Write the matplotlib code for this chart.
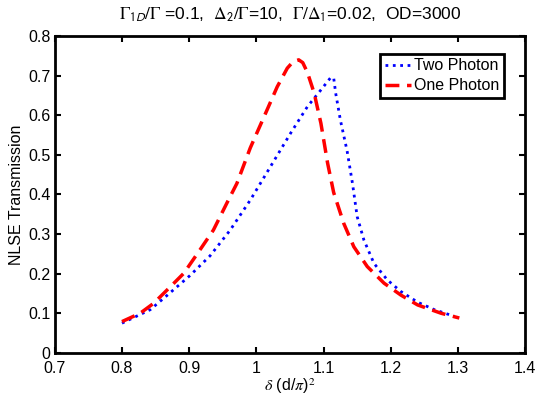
import matplotlib
matplotlib.use("Agg")
import matplotlib.pyplot as plt

plt.rcParams["font.family"] = ["Liberation Sans", "DejaVu Sans"]
plt.rcParams["mathtext.fontset"] = "stix"

# values
x_two = [0.800, 0.842, 0.867, 0.901, 0.931, 0.961, 0.991, 1.018, 1.051, 1.076,
         1.096, 1.110, 1.115, 1.118, 1.125, 1.135, 1.143, 1.150, 1.160, 1.175,
         1.195, 1.215, 1.240, 1.265, 1.295]
y_two = [0.075, 0.109, 0.145, 0.195, 0.245, 0.310, 0.386, 0.462, 0.555, 0.622,
         0.664, 0.694, 0.695, 0.656, 0.588, 0.510, 0.428, 0.344, 0.285, 0.226,
         0.184, 0.155, 0.128, 0.109, 0.092]

x_one = [0.800, 0.827, 0.847, 0.872, 0.892, 0.916, 0.936, 0.956, 0.971, 0.991,
         1.016, 1.031, 1.046, 1.055, 1.063, 1.069, 1.076, 1.086, 1.096, 1.106,
         1.115, 1.130, 1.145, 1.165, 1.190, 1.215, 1.240, 1.275, 1.302]
y_one = [0.079, 0.100, 0.125, 0.167, 0.201, 0.260, 0.310, 0.378, 0.428, 0.518,
         0.614, 0.672, 0.719, 0.736, 0.740, 0.733, 0.708, 0.656, 0.580, 0.479,
         0.405, 0.327, 0.268, 0.218, 0.176, 0.146, 0.121, 0.100, 0.088]

fig = plt.figure(figsize=(5.37, 4.01), dpi=100)
ax = fig.add_axes([0.102, 0.12, 0.876, 0.79])

ax.plot(x_two, y_two, color="blue", linestyle=":", linewidth=2, label="Two Photon")
ax.plot(x_one, y_one, color="red", linestyle="--", linewidth=2.5, dashes=(4, 2.2),
        label="One Photon")

ax.set_xlim(0.7, 1.4)
ax.set_ylim(0, 0.8)
ax.set_xticks([0.7, 0.8, 0.9, 1, 1.1, 1.2, 1.3, 1.4])
ax.set_xticklabels(["0.7", "0.8", "0.9", "1", "1.1", "1.2", "1.3", "1.4"])
ax.set_yticks([0, 0.1, 0.2, 0.3, 0.4, 0.5, 0.6, 0.7, 0.8])
ax.set_yticklabels(["0", "0.1", "0.2", "0.3", "0.4", "0.5", "0.6", "0.7", "0.8"])
ax.tick_params(direction="in", top=True, right=True, length=4, width=1.5,
               labelsize=11.5)
ax.tick_params(axis="x", pad=6)
ax.tick_params(axis="y", pad=3)
for s in ax.spines.values():
    s.set_linewidth(2)

ax.set_xlabel(r"$\delta$ (d/$\pi$)$^2$", fontsize=11.5, labelpad=0)
ax.set_ylabel("NLSE Transmission", fontsize=11.5, labelpad=3)
ax.set_title(r"$\Gamma_{\mathsf{1D}}/\Gamma$ =0.1,  $\Delta_{\mathsf{2}}/\Gamma$=10,  "
             r"$\Gamma/\Delta_{\mathsf{1}}$=0.02,  OD=3000", fontsize=12.5, pad=12)

leg = ax.legend(loc="upper right", bbox_to_anchor=(0.955, 0.945), fontsize=11.5,
                fancybox=False, edgecolor="black", framealpha=1,
                handlelength=1.6, handletextpad=0.2, borderpad=0.3,
                labelspacing=0.3, borderaxespad=0)
leg.get_frame().set_linewidth(2)

plt.savefig("out.png", dpi=100)
